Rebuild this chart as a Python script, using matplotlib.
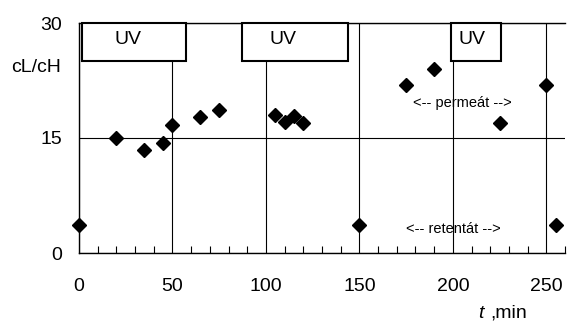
import matplotlib.pyplot as plt
from matplotlib.patches import Rectangle
from matplotlib.ticker import MultipleLocator

plt.rcParams['font.family'] = ['Liberation Sans', 'DejaVu Sans']

# data
t_min = [0, 20, 35, 45, 50, 65, 75, 105, 110, 115, 120, 150, 175, 190, 225, 250, 255]
ratio = [3.6, 15.0, 13.5, 14.3, 16.7, 17.7, 18.6, 18.0, 17.1, 17.9, 16.9, 3.6,
         21.9, 24.0, 16.9, 21.9, 3.6]

# UV irradiation windows (start, end) in min
uv_start = [1.4, 87, 199]
uv_end = [57, 144, 226]
uv_text_x = [26, 109, 210]

x_ticks = [0, 50, 100, 150, 200, 250]
y_ticks = [0, 15, 30]

fig = plt.figure(figsize=(5.67, 3.22), dpi=100)
ax = fig.add_axes([79 / 567, 1 - 253 / 322, (565 - 79) / 567, (253 - 23) / 322])

ax.set_xlim(0, 260)
ax.set_ylim(0, 30)
ax.set_xticks(x_ticks)
ax.set_yticks(y_ticks)
ax.xaxis.set_minor_locator(MultipleLocator(10))
ax.grid(True, which='major', color='black', linewidth=0.8)
ax.set_axisbelow(True)

ax.tick_params(axis='x', which='major', direction='in', length=0, pad=18, labelsize=14)
ax.tick_params(axis='x', which='minor', direction='in', length=5, width=0.8)
ax.tick_params(axis='y', which='major', length=0, pad=12, labelsize=14)

for side in ['left', 'bottom', 'top']:
    ax.spines[side].set_linewidth(1.0)
ax.spines['right'].set_visible(False)

for x0, x1, tx in zip(uv_start, uv_end, uv_text_x):
    ax.add_patch(Rectangle((x0, 25.1), x1 - x0, 4.9, facecolor='white',
                           edgecolor='black', linewidth=1.5, zorder=3, clip_on=False))
    ax.text(tx, 27.9, 'UV', fontsize=14, ha='center', va='center', zorder=4)

ax.plot(t_min, ratio, linestyle='none', marker='D', markersize=7.3,
        color='black', zorder=5, clip_on=False)

ax.text(205, 19.6, '<-- permeát -->', fontsize=10.5, ha='center', va='center', zorder=4)
ax.text(200.5, 3.1, '<-- retentát -->', fontsize=10.5, ha='center', va='center', zorder=4)

fig.text(36 / 567, 1 - 67 / 322, 'cL/cH', fontsize=14, ha='center', va='center')
fig.text(481 / 567, 1 - 313 / 322, 't', fontsize=14, style='italic', ha='center', va='center')
fig.text(490 / 567, 1 - 313 / 322, ',min', fontsize=14, ha='left', va='center')

fig.savefig('out.png', dpi=100)
